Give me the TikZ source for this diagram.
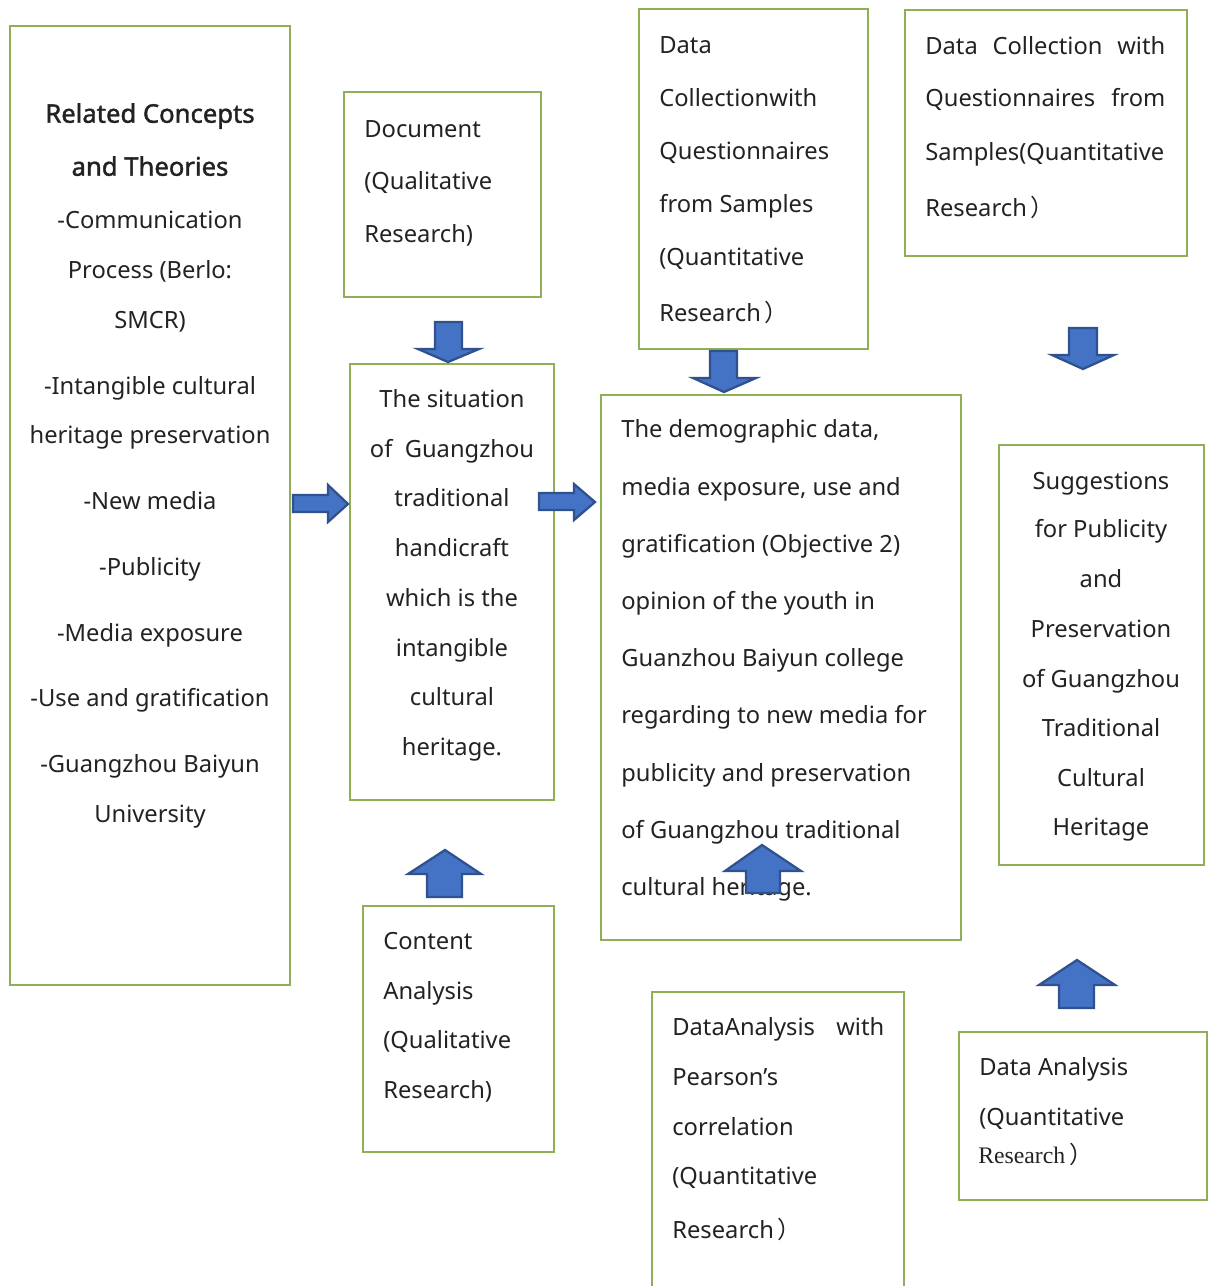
\documentclass[tikz,border=0pt]{standalone}
\usepackage{fontspec}
\setmainfont{Noto Sans}
\newfontfamily\headface{Noto Sans}[FakeBold=1.6]
\newfontfamily\serifpart{Liberation Serif}
\newfontfamily\cjkpart{Noto Sans CJK SC}
\usetikzlibrary{fit}
\definecolor{boxline}{HTML}{8FAE55}
\definecolor{arrowfill}{HTML}{4472C4}
\definecolor{arrowline}{HTML}{2F528F}
\definecolor{ink}{HTML}{222222}
\newcommand\fwparen{\,{\cjkpart ）}}
\begin{document}
\begin{tikzpicture}[x=0.02cm,y=-0.02cm,
  box/.style={draw=boxline, line width=1.1pt, inner sep=0pt},
  txt/.style={inner sep=0pt, text=ink, font=\fontsize{13.5}{16}\selectfont},
  lt/.style={txt, anchor=mid west},
  ct/.style={txt, anchor=mid},
  head/.style={ct, font=\fontsize{14.6}{17}\headface},
  blockarrow/.style={draw=arrowline, fill=arrowfill, line width=1.3pt, line join=miter}]
\useasboundingbox (0,0) rectangle (1208,1286);

% ---------- frames ----------
\node[box, fit={(10,26) (290,985)}] (concepts) {};
\node[box, fit={(344,92) (541,297)}] (document) {};
\node[box, fit={(639,9) (868,349)}] (collectA) {};
\node[box, fit={(905,10) (1187,256)}] (collectB) {};
\node[box, fit={(350,364) (554,800)}] (situation) {};
\node[box, fit={(601,395) (961,940)}] (demographic) {};
\node[box, fit={(999,445) (1204,865)}] (suggest) {};
\node[box, fit={(363,906) (554,1152)}] (content) {};
\node[box, fit={(652,992) (904,1300)}] (pearson) {};
\node[box, fit={(959,1032) (1207,1200)}] (analysis) {};

\begin{scope}[shift={(0,3)}]
% ---------- concepts and theories ----------
\node[head] (c1) at (150,115) {Related Concepts};
\node[head] (c2) at (150,168) {and Theories};
\node[ct] (c3) at (150,221) {-Communication};
\node[ct] (c4) at (150,271) {Process (Berlo:};
\node[ct] (c5) at (150,321) {SMCR)};
\node[ct] (c6) at (150,387) {-Intangible cultural};
\node[ct] (c7) at (150,436) {heritage preservation};
\node[ct] (c8) at (150,502) {-New media};
\node[ct] (c9) at (150,568) {-Publicity};
\node[ct] (c10) at (150,634) {-Media exposure};
\node[ct] (c11) at (150,699) {-Use and gratification};
\node[ct] (c12) at (150,765) {-Guangzhou Baiyun};
\node[ct] (c13) at (150,815) {University};

% ---------- document ----------
\node[lt] (d1) at (364,130) {Document};
\node[lt] (d2) at (364,182) {(Qualitative};
\node[lt] (d3) at (364,235) {Research)};

% ---------- data collection (middle) ----------
\node[lt] (a1) at (659,46) {Data};
\node[lt] (a2) at (659,99) {Collectionwith};
\node[lt] (a3) at (659,152) {Questionnaires};
\node[lt] (a4) at (659,205) {from Samples};
\node[lt] (a5) at (659,258) {(Quantitative};
\node[lt] (a6) at (659,314) {Research\fwparen};

% ---------- data collection (right) ----------
\node[lt] (b1) at (925,47) {\makebox[4.8cm][s]{Data\hfill Collection\hfill with}};
\node[lt] (b2) at (925,99) {\makebox[4.8cm][s]{Questionnaires\hfill from}};
\node[lt] (b3) at (925,153) {Samples(Quantitative};
\node[lt] (b4) at (925,209) {Research\fwparen};

% ---------- situation ----------
\node[ct] (s1) at (452,400) {The situation};
\node[ct] (s2) at (452,450) {of\ \ Guangzhou};
\node[ct] (s3) at (452,499) {traditional};
\node[ct] (s4) at (452,549) {handicraft};
\node[ct] (s5) at (452,599) {which is the};
\node[ct] (s6) at (452,649) {intangible};
\node[ct] (s7) at (452,698) {cultural};
\node[ct] (s8) at (452,748) {heritage.};

% ---------- demographic ----------
\node[lt] (m1) at (621,430) {The demographic data,};
\node[lt] (m2) at (621,488) {media exposure, use and};
\node[lt] (m3) at (621,545) {gratification (Objective 2)};
\node[lt] (m4) at (621,602) {opinion of the youth in};
\node[lt] (m5) at (621,659) {Guanzhou Baiyun college};
\node[lt] (m6) at (621,716) {regarding to new media for};
\node[lt] (m7) at (621,774) {publicity and preservation};
\node[lt] (m8) at (621,831) {of Guangzhou traditional};
\node[lt] (m9) at (621,888) {cultural heritage.};

% ---------- suggestions ----------
\node[ct] (g1) at (1101,482) {Suggestions};
\node[ct] (g2) at (1101,530) {for Publicity};
\node[ct] (g3) at (1101,580) {and};
\node[ct] (g4) at (1101,630) {Preservation};
\node[ct] (g5) at (1101,680) {of Guangzhou};
\node[ct] (g6) at (1101,729) {Traditional};
\node[ct] (g7) at (1101,779) {Cultural};
\node[ct] (g8) at (1101,828) {Heritage};

% ---------- content analysis ----------
\node[lt] (k1) at (383,942) {Content};
\node[lt] (k2) at (383,992) {Analysis};
\node[lt] (k3) at (383,1041) {(Qualitative};
\node[lt] (k4) at (383,1091) {Research)};

% ---------- pearson ----------
\node[lt] (p1) at (672,1028) {\makebox[4.24cm][s]{DataAnalysis\hfill with}};
\node[lt] (p2) at (672,1078) {Pearson’s};
\node[lt] (p3) at (672,1128) {correlation};
\node[lt] (p4) at (672,1177) {(Quantitative};
\node[lt] (p5) at (672,1231) {Research\fwparen};

% ---------- data analysis ----------
\node[lt] (q1) at (979,1068) {Data Analysis};
\node[lt] (q2) at (979,1118) {(Quantitative};
\node[lt] (q3) at (978,1156) {{\serifpart\fontsize{13.5}{16}\selectfont Research}\fwparen};
\end{scope}

% ---------- block arrows ----------
% right-pointing
\draw[blockarrow] (293,495) -- (328,495) -- (328,485) -- (348,504) -- (328,522) -- (328,512) -- (293,512) -- cycle;
\draw[blockarrow] (539,493) -- (574,493) -- (574,484) -- (595,502) -- (574,520) -- (574,510) -- (539,510) -- cycle;
% down-pointing
\draw[blockarrow] (435,322) -- (462,322) -- (462,349) -- (479,349) -- (448,362) -- (418,349) -- (435,349) -- cycle;
\draw[blockarrow] (710,351) -- (737,351) -- (737,378) -- (756,378) -- (724,392) -- (693,378) -- (710,378) -- cycle;
\draw[blockarrow] (1069,328) -- (1097,328) -- (1097,355) -- (1114,355) -- (1083,369) -- (1052,355) -- (1069,355) -- cycle;
% up-pointing
\draw[blockarrow] (1059,1008) -- (1094,1008) -- (1094,985) -- (1115,985) -- (1077,960) -- (1039,985) -- (1059,985) -- cycle;
\draw[blockarrow] (427,897) -- (462,897) -- (462,874) -- (481,874) -- (445,850) -- (408,874) -- (427,874) -- cycle;
\draw[blockarrow] (746,893) -- (780,893) -- (780,871) -- (801,871) -- (762,845) -- (725,871) -- (746,871) -- cycle;
\end{tikzpicture}
\end{document}
